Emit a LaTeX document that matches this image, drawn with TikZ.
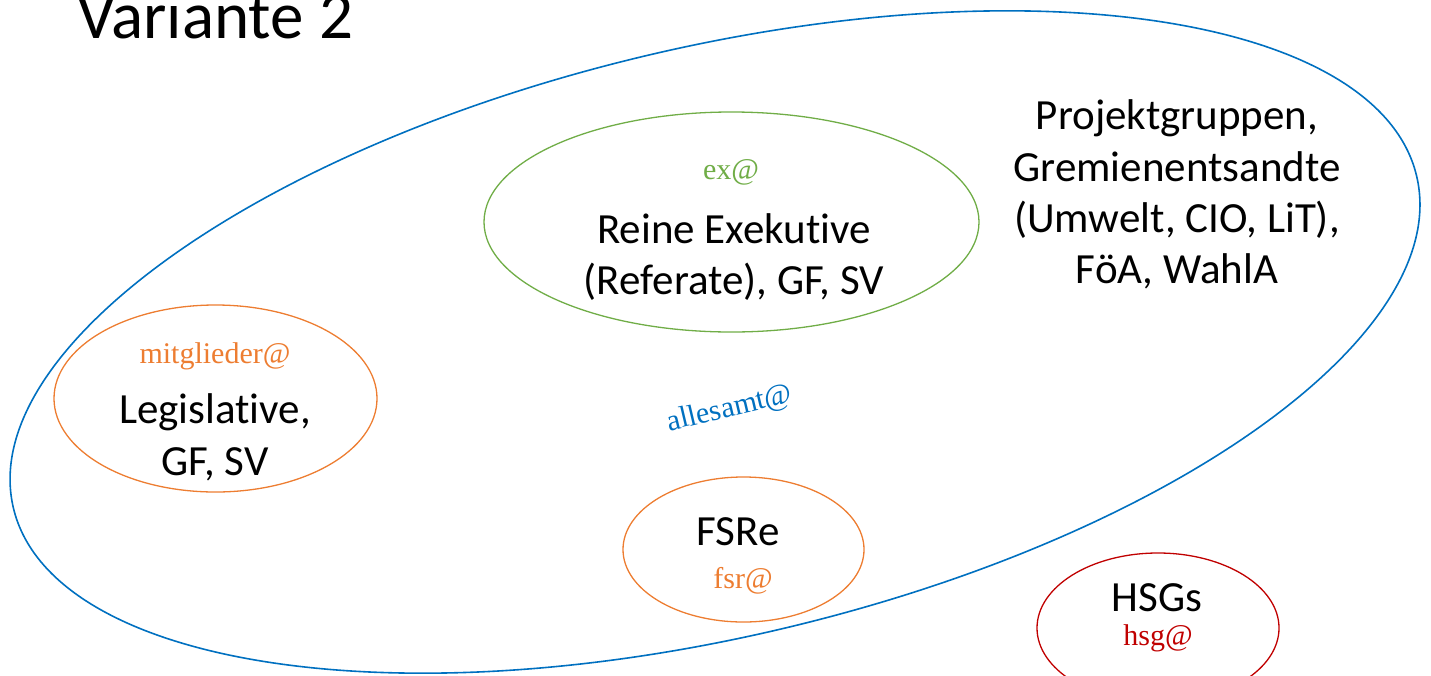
\documentclass[tikz,border=0pt]{standalone}
\usepackage{fontspec}
\setmainfont[Ligatures=NoCommon]{Carlito}
\newfontfamily\labelfont{Liberation Serif}
\usetikzlibrary{shapes.geometric}
\definecolor{cblue}{HTML}{0070C0}
\definecolor{cgreen}{HTML}{70AD47}
\definecolor{corange}{HTML}{ED7D31}
\definecolor{cred}{HTML}{C00000}
\tikzset{
  ring/.style={draw, ellipse, inner sep=0pt, line width=1.3pt},
  bigtext/.style={font=\fontsize{43}{51}\selectfont, anchor=base, inner sep=0pt},
  mail/.style={font=\labelfont\fontsize{30}{36}\selectfont, anchor=base, inner sep=0pt},
}
\begin{document}
\begin{tikzpicture}[x=1pt,y=-1pt]
\useasboundingbox (0,0) rectangle (1431,675);
% title
\node[font=\fontsize{67}{80}\selectfont, anchor=base west, inner sep=0pt] (title) at (77,38) {Variante 2};
% outer blue ellipse
\node[ring, draw=cblue, line width=1.6pt, minimum width=1442pt, minimum height=589pt, rotate=13.3] (all) at (715,342) {};
\node[mail, text=cblue, rotate=13.3, anchor=center] (allmail) at (730,409) {allesamt@};
% green ellipse
\node[ring, draw=cgreen, minimum width=495pt, minimum height=220pt] (ex) at (731.5,222) {};
\node[mail, text=cgreen] (exmail) at (731,179) {ex@};
\node[bigtext] (ex1) at (734,243) {Reine Exekutive};
\node[bigtext] (ex2) at (734,294) {(Referate), GF, SV};
% legislative
\node[ring, draw=corange, minimum width=323pt, minimum height=187pt] (leg) at (215.5,398.5) {};
\node[mail, text=corange] (legmail) at (215,363) {mitglieder@};
\node[bigtext] (leg1) at (215,423) {Legislative,};
\node[bigtext] (leg2) at (215,475) {GF, SV};
% FSRe
\node[ring, draw=corange, minimum width=241pt, minimum height=145pt] (fsr) at (743.5,549.5) {};
\node[bigtext] (fsr1) at (738,545) {FSRe};
\node[mail, text=corange] (fsrmail) at (743,588) {fsr@};
% HSGs
\node[ring, draw=cred, minimum width=242pt, minimum height=150pt] (hsg) at (1158,628) {};
\node[bigtext] (hsg1) at (1157,611) {HSGs};
\node[mail, text=cred] (hsgmail) at (1158,645) {hsg@};
% project groups
\node[bigtext] (pg1) at (1177,129) {Projektgruppen,};
\node[bigtext] (pg2) at (1177,181) {Gremienentsandte};
\node[bigtext] (pg3) at (1177,232) {(Umwelt, CIO, LiT),};
\node[bigtext] (pg4) at (1177,283) {FöA, WahlA};
\end{tikzpicture}
\end{document}
